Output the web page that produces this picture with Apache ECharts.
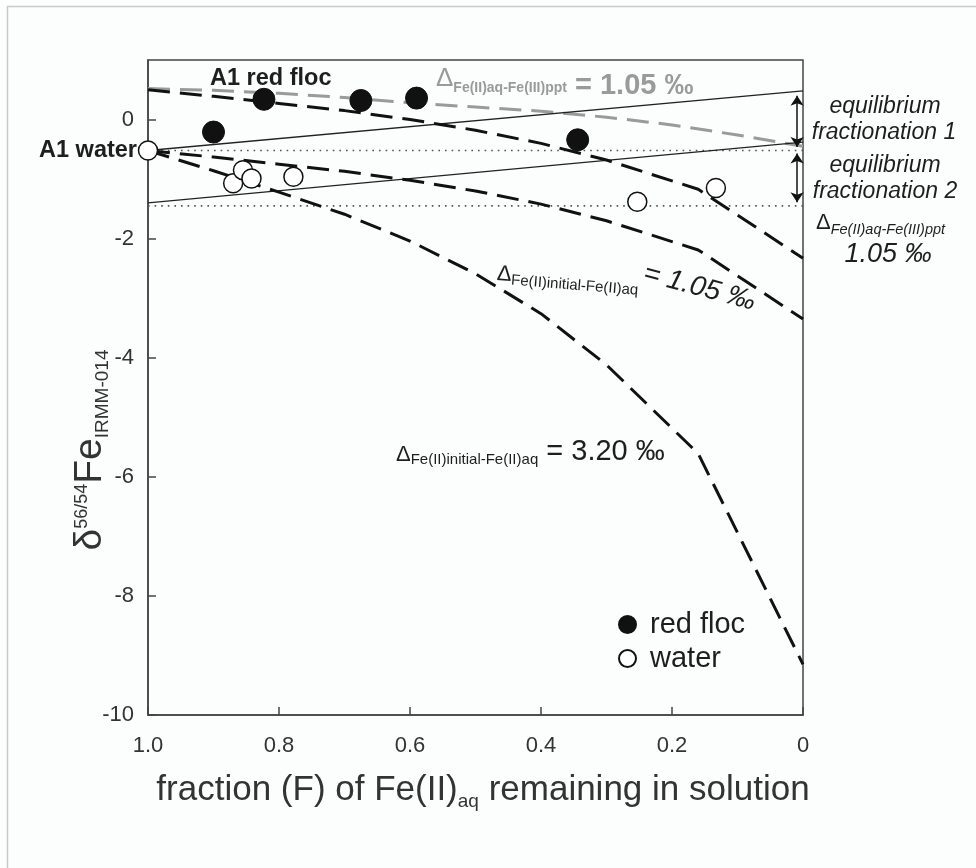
<!DOCTYPE html>
<html><head><meta charset="utf-8">
<script src="https://cdn.jsdelivr.net/npm/echarts@6/dist/echarts.min.js"></script>
<style>html,body{margin:0;padding:0;background:#fcfdfd;}#c{width:976px;height:868px;}</style>
</head><body><div id="c"></div>
<script>
// ---- data ----
const xTickLabels = ['0', '0.2', '0.4', '0.6', '0.8', '1.0'];
const redFloc = [[0.900, -0.21], [0.823, 0.34], [0.675, 0.32], [0.590, 0.36], [0.344, -0.34]];
const water = [[1.0, -0.52], [0.870, -1.07], [0.855, -0.85], [0.842, -0.99], [0.778, -0.96], [0.253, -1.38], [0.133, -1.15]];
const modelF = [1, 0.9, 0.8, 0.7, 0.6, 0.5, 0.4, 0.3, 0.16, 0];
const rayleighFloc105 = [0.50, 0.39, 0.27, 0.15, 0.00, -0.18, -0.40, -0.68, -1.17, -2.33];
const rayleighWater105 = [-0.52, -0.63, -0.75, -0.87, -1.02, -1.20, -1.42, -1.70, -2.19, -3.35];
const rayleighWater320 = [-0.52, -0.86, -1.22, -1.59, -2.04, -2.59, -3.26, -4.12, -5.61, -9.15];
const pptF = [1, 0.9, 0.8, 0.7, 0.6, 0.5, 0.4, 0.3, 0.2, 0.1, 0];
const equilPpt = [0.52, 0.49, 0.44, 0.37, 0.28, 0.21, 0.14, 0.04, -0.09, -0.26, -0.45];
const equilLine1 = [[1, -0.52], [0, 0.48]];
const equilLine2 = [[1, -1.40], [0, -0.38]];
const dotted1 = [[1, -0.52], [0, -0.52]];
const dotted2 = [[1, -1.45], [0, -1.45]];
const arrow1 = [[0.009, 0.40], [0.009, -0.46]];
const arrow2 = [[0.009, -0.57], [0.009, -1.39]];

const FF = "'Liberation Sans', Arial, Helvetica, sans-serif";
const pair = (xs, ys) => xs.map((x, i) => [x, ys[i]]);
function tk(size, base, extra) {
  return Object.assign({fontSize: size, fontFamily: FF, verticalAlign: 'top',
    padding: [Math.max(0, base - 0.83 * size), 0, 0, 0]}, extra || {});
}
const ink = '#1e1e1e';
const dashBlack = {color: '#111', width: 3, type: [22, 10]};

const chart = echarts.init(document.getElementById('c'), null, {renderer: 'canvas'});
const option = {
  animation: false,
  backgroundColor: '#fcfdfd',
  grid: {left: 148, top: 60, width: 655, height: 655, show: true, borderColor: '#444', borderWidth: 1.5, backgroundColor: 'transparent'},
  xAxis: {
    type: 'value', min: 0, max: 1, interval: 0.2, inverse: true,
    axisLine: {onZero: false, lineStyle: {color: '#444', width: 1.5}},
    axisTick: {inside: true, length: 8, lineStyle: {color: '#444', width: 1.5}},
    splitLine: {show: false},
    axisLabel: {fontSize: 22, fontFamily: FF, color: '#333', margin: 20,
      formatter: v => xTickLabels[Math.round(v / 0.2)]}
  },
  yAxis: {
    type: 'value', min: -10, max: 1, interval: 2,
    axisLine: {onZero: false, lineStyle: {color: '#444', width: 1.5}},
    axisTick: {inside: true, length: 8, lineStyle: {color: '#444', width: 1.5}},
    splitLine: {show: false},
    axisLabel: {fontSize: 22, fontFamily: FF, color: '#333', margin: 14, showMaxLabel: false}
  },
  legend: {
    data: ['red floc', 'water'], orient: 'vertical', left: 613, top: 605, itemGap: 5,
    icon: 'circle', itemWidth: 17, itemHeight: 17,
    textStyle: {fontSize: 29, fontFamily: FF, color: ink, padding: [0, 0, 0, 9]}
  },
  series: [
    {type: 'line', name: 'ppt', data: pair(pptF, equilPpt), symbol: 'none', lineStyle: {color: '#9a9a9a', width: 3, type: [22, 10]}, z: 2},
    {type: 'line', name: 'floc105', data: pair(modelF, rayleighFloc105), symbol: 'none', lineStyle: dashBlack, z: 3},
    {type: 'line', name: 'water105', data: pair(modelF, rayleighWater105), symbol: 'none', lineStyle: dashBlack, z: 3},
    {type: 'line', name: 'water320', data: pair(modelF, rayleighWater320), symbol: 'none', lineStyle: dashBlack, z: 3},
    {type: 'line', name: 'eq1', data: equilLine1, symbol: 'none', lineStyle: {color: '#222', width: 1.3}, z: 2},
    {type: 'line', name: 'eq2', data: equilLine2, symbol: 'none', lineStyle: {color: '#222', width: 1.3}, z: 2},
    {type: 'line', name: 'dot1', data: dotted1, symbol: 'none', lineStyle: {color: '#555', width: 1.6, type: [1.6, 5]}, z: 1},
    {type: 'line', name: 'dot2', data: dotted2, symbol: 'none', lineStyle: {color: '#555', width: 1.6, type: [1.6, 5]}, z: 1},
    {type: 'lines', coordinateSystem: 'cartesian2d', symbol: ['arrow', 'arrow'], symbolSize: 10,
      lineStyle: {color: '#111', width: 1.5, opacity: 1},
      data: [{coords: arrow1}, {coords: arrow2}], z: 4},
    {type: 'scatter', name: 'red floc', data: redFloc, symbol: 'circle', symbolSize: 22,
      itemStyle: {color: '#111', borderColor: '#111', borderWidth: 1, opacity: 1}, z: 6},
    {type: 'scatter', name: 'water', data: water, symbol: 'circle', symbolSize: 19,
      itemStyle: {color: '#fff', borderColor: '#111', borderWidth: 1.5, opacity: 1}, z: 6}
  ],
  graphic: [
    {type: 'rect', silent: true, z: -10, shape: {x: 7.5, y: 6.5, width: 1200, height: 1200}, style: {fill: 'none', stroke: '#c9c9c9', lineWidth: 1.5}},
    {type: 'text', x: 210, y: 79, style: {text: 'A1 red floc', font: 'bold 23.5px ' + FF, fill: ink, verticalAlign: 'middle'}},
    {type: 'text', x: 137, y: 151, style: {text: 'A1 water', font: 'bold 23.5px ' + FF, fill: ink, align: 'right', verticalAlign: 'middle'}},
    {type: 'text', x: 436, y: 60, style: {text: '{d|Δ}{s|Fe(II)aq-Fe(III)ppt}{v| = 1.05 ‰}', rich: {
      d: tk(26, 27, {fill: '#9a9a9a'}),
      s: tk(14, 33, {fill: '#9a9a9a', fontWeight: 'bold'}),
      v: tk(29, 36, {fill: '#9a9a9a', fontWeight: 'bold'})}}},
    {type: 'text', x: 885, y: 107, style: {text: 'equilibrium', font: 'italic 23px ' + FF, fill: ink, align: 'center', verticalAlign: 'middle'}},
    {type: 'text', x: 884, y: 133, style: {text: 'fractionation 1', font: 'italic 23px ' + FF, fill: ink, align: 'center', verticalAlign: 'middle'}},
    {type: 'text', x: 885, y: 166, style: {text: 'equilibrium', font: 'italic 23px ' + FF, fill: ink, align: 'center', verticalAlign: 'middle'}},
    {type: 'text', x: 885, y: 192, style: {text: 'fractionation 2', font: 'italic 23px ' + FF, fill: ink, align: 'center', verticalAlign: 'middle'}},
    {type: 'text', x: 816, y: 200, style: {text: '{d|Δ}{s|Fe(II)aq-Fe(III)ppt}', rich: {
      d: tk(22, 30, {fill: ink}),
      s: tk(14.5, 35, {fill: ink, fontStyle: 'italic'})}}},
    {type: 'text', x: 888, y: 254, style: {text: '1.05 ‰', font: 'italic 27px ' + FF, fill: ink, align: 'center', verticalAlign: 'middle'}},
    {type: 'text', x: 497, y: 273, rotation: -0.08, style: {text: '{d|Δ}{s|Fe(II)initial-Fe(II)aq}', verticalAlign: 'middle', rich: {
      d: tk(22, 22, {fill: ink}),
      s: tk(15, 25, {fill: ink})}}},
    {type: 'text', x: 644, y: 273, rotation: -0.26, style: {text: '= 1.05 ‰', font: 'italic 28px ' + FF, fill: ink, verticalAlign: 'middle'}},
    {type: 'text', x: 396, y: 432, style: {text: '{d|Δ}{s|Fe(II)initial-Fe(II)aq}{v| = 3.20 ‰}', rich: {
      d: tk(22, 30, {fill: ink}),
      s: tk(15, 33, {fill: ink}),
      v: tk(29, 30, {fill: ink})}}},
    {type: 'text', x: 87, y: 450, rotation: Math.PI / 2, style: {text: '{d|δ}{p|56/54}{f|Fe}{b|IRMM-014}', align: 'center', verticalAlign: 'middle', rich: {
      d: tk(39, 41, {fill: '#333'}),
      p: tk(18, 26, {fill: '#333'}),
      f: tk(39, 41, {fill: '#333'}),
      b: tk(19, 47, {fill: '#333'})}}},
    {type: 'text', x: 483, y: 765, style: {text: '{m|fraction (F) of Fe(II)}{b|aq}{m| remaining in solution}', align: 'center', rich: {
      m: tk(35, 37, {fill: '#333'}),
      b: tk(19, 43, {fill: '#333'})}}}
  ]
};
chart.setOption(option);
</script></body></html>
